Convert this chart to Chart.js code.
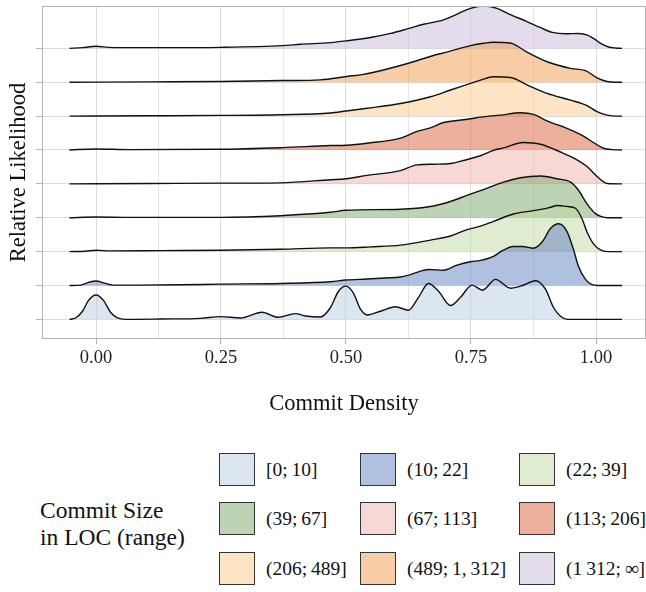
<!DOCTYPE html>
<html lang="en">
<head>
  <meta charset="UTF-8" />
  <title>Commit Density Ridgelines</title>
  <style>
    * { margin: 0; padding: 0; box-sizing: border-box; }
    body { background: white; width: 646px; height: 592px; overflow: hidden; }
    #wrap { position: relative; width: 646px; height: 592px; font-family: 'Liberation Serif', 'Times New Roman', serif; color: #111; }
    #chartBox { position: absolute; left: 0; top: 0; width: 646px; height: 425px; }
    .legend-title { position: absolute; left: 40px; top: 497px; font-size: 23.5px; line-height: 27px; }
    .key { position: absolute; width: 36px; height: 33px; border: 1px solid #333; }
    .lab { position: absolute; font-size: 19.5px; line-height: 33px; height: 33px; white-space: nowrap; }
  </style>
</head>
<body>
<div id="wrap">
  <div id="chartBox"><canvas id="ridges"></canvas></div>
  <div class="legend-title">Commit Size<br>in LOC (range)</div>
  <div id="legend"></div>
</div>

<script src="https://cdn.jsdelivr.net/npm/chart.js"></script>
<script>
  // commit size buckets, bottom ridge first
  const categories = ['[0;\u200910]', '(10;\u200922]', '(22;\u200939]', '(39;\u200967]', '(67;\u2009113]',
                      '(113;\u2009206]', '(206;\u2009489]', '(489;\u20091,\u2009312]', '(1\u2009312;\u2009\u221e]'];
  const fillColors = ['rgba(185,205,225,0.5)', 'rgba(97,129,193,0.5)', 'rgba(193,217,161,0.5)',
                      'rgba(121,169,105,0.5)', 'rgba(241,177,169,0.5)', 'rgba(217,97,57,0.5)',
                      'rgba(249,201,137,0.5)', 'rgba(241,153,73,0.5)', 'rgba(201,185,217,0.5)'];

  const xTicks = [0, 0.125, 0.25, 0.375, 0.5, 0.625, 0.75, 0.875, 1];
  const yTicks = [0, 1, 2, 3, 4, 5, 6, 7, 8];

  // density curves (x = commit density, h = relative likelihood)
  const loc0_x = [-0.053, -0.041, -0.027, -0.015, 0, 0.015, 0.029, 0.043, 0.059, 0.129, 0.209, 0.249, 0.289, 0.332, 0.365, 0.399, 0.419, 0.449, 0.469, 0.485, 0.5, 0.515, 0.529, 0.542, 0.569, 0.599, 0.625, 0.645, 0.665, 0.685, 0.709, 0.729, 0.752, 0.773, 0.799, 0.829, 0.853, 0.879, 0.899, 0.915, 0.929, 0.943, 1.052];
  const loc0_h = [0, 0.04, 0.24, 0.56, 0.72, 0.56, 0.21, 0.04, 0, 0.01, 0.03, 0.08, 0.04, 0.21, 0.06, 0.17, 0.10, 0.07, 0.35, 0.83, 0.98, 0.77, 0.30, 0.13, 0.24, 0.37, 0.27, 0.65, 1.06, 0.83, 0.41, 0.65, 1.01, 0.86, 1.18, 0.92, 1.00, 1.14, 0.89, 0.35, 0.09, 0, 0];

  const loc10_x = [-0.053, -0.031, -0.015, 0, 0.017, 0.033, 0.089, 0.169, 0.249, 0.369, 0.469, 0.5, 0.542, 0.579, 0.609, 0.629, 0.665, 0.695, 0.722, 0.749, 0.769, 0.795, 0.813, 0.835, 0.853, 0.875, 0.893, 0.909, 0.925, 0.942, 0.955, 0.965, 0.979, 0.991, 1.003, 1.052];
  const loc10_h = [0, 0.01, 0.09, 0.13, 0.07, 0.01, 0.01, 0.02, 0.04, 0.06, 0.11, 0.16, 0.19, 0.22, 0.25, 0.32, 0.47, 0.45, 0.60, 0.70, 0.74, 0.86, 1.03, 1.15, 1.15, 1.10, 1.30, 1.68, 1.82, 1.59, 1.06, 0.56, 0.18, 0.03, 0, 0];

  const loc22_x = [-0.053, -0.021, 0, 0.029, 0.129, 0.249, 0.369, 0.469, 0.5, 0.549, 0.609, 0.669, 0.709, 0.742, 0.769, 0.795, 0.835, 0.875, 0.895, 0.909, 0.923, 0.943, 0.959, 0.972, 0.982, 0.995, 1.009, 1.023, 1.052];
  const loc22_h = [0, 0.01, 0.04, 0.02, 0.03, 0.04, 0.07, 0.11, 0.11, 0.14, 0.19, 0.34, 0.46, 0.65, 0.75, 0.89, 1.11, 1.21, 1.26, 1.31, 1.36, 1.33, 1.28, 0.97, 0.58, 0.23, 0.05, 0, 0];

  const loc39_x = [-0.053, 0, 0.069, 0.249, 0.369, 0.469, 0.5, 0.609, 0.669, 0.709, 0.742, 0.769, 0.815, 0.849, 0.889, 0.922, 0.949, 0.965, 0.982, 0.999, 1.011, 1.023, 1.052];
  const loc39_h = [0, 0.02, 0.01, 0.01, 0.06, 0.16, 0.22, 0.25, 0.33, 0.48, 0.66, 0.80, 1.05, 1.18, 1.23, 1.15, 1.05, 0.81, 0.41, 0.12, 0.03, 0, 0];

  const loc67_x = [-0.053, 0.109, 0.249, 0.369, 0.469, 0.5, 0.542, 0.609, 0.642, 0.675, 0.709, 0.735, 0.769, 0.795, 0.815, 0.855, 0.889, 0.929, 0.962, 0.982, 1.002, 1.015, 1.023, 1.052];
  const loc67_h = [0, 0.01, 0.02, 0.03, 0.12, 0.15, 0.25, 0.39, 0.56, 0.58, 0.60, 0.69, 0.83, 0.99, 1.06, 1.22, 1.17, 0.94, 0.71, 0.51, 0.22, 0.06, 0.01, 0];

  const loc113_x = [-0.053, 0, 0.069, 0.249, 0.373, 0.469, 0.5, 0.542, 0.609, 0.642, 0.669, 0.695, 0.722, 0.749, 0.769, 0.809, 0.849, 0.875, 0.902, 0.942, 0.975, 0.995, 1.015, 1.033, 1.052];
  const loc113_h = [0, 0.03, 0.01, 0.02, 0.07, 0.13, 0.14, 0.20, 0.35, 0.55, 0.65, 0.81, 0.87, 0.92, 0.97, 1.03, 1.10, 1.05, 0.86, 0.64, 0.41, 0.22, 0.05, 0.01, 0];

  const loc206_x = [-0.053, 0.109, 0.249, 0.369, 0.469, 0.5, 0.542, 0.609, 0.669, 0.709, 0.742, 0.769, 0.795, 0.829, 0.862, 0.902, 0.949, 0.982, 1.002, 1.022, 1.042, 1.052];
  const loc206_h = [0, 0.01, 0.02, 0.04, 0.09, 0.15, 0.23, 0.37, 0.57, 0.77, 0.93, 1.06, 1.16, 1.14, 0.92, 0.67, 0.47, 0.31, 0.13, 0.03, 0, 0];

  const loc489_x = [-0.053, 0.109, 0.249, 0.373, 0.449, 0.502, 0.535, 0.569, 0.625, 0.675, 0.702, 0.749, 0.775, 0.795, 0.819, 0.833, 0.862, 0.905, 0.949, 0.979, 1.002, 1.022, 1.039, 1.052];
  const loc489_h = [0, 0.01, 0.02, 0.05, 0.07, 0.17, 0.23, 0.34, 0.56, 0.79, 0.89, 1.08, 1.15, 1.18, 1.17, 1.14, 0.89, 0.59, 0.41, 0.34, 0.13, 0.02, 0, 0];

  const loc1312_x = [-0.053, -0.027, 0, 0.025, 0.049, 0.129, 0.249, 0.373, 0.409, 0.469, 0.5, 0.549, 0.589, 0.626, 0.655, 0.695, 0.719, 0.749, 0.775, 0.802, 0.825, 0.862, 0.889, 0.913, 0.939, 0.965, 0.983, 0.997, 1.011, 1.025, 1.039, 1.052];
  const loc1312_h = [0, 0.02, 0.06, 0.03, 0.02, 0.02, 0.03, 0.08, 0.12, 0.17, 0.22, 0.32, 0.44, 0.59, 0.71, 0.84, 0.99, 1.18, 1.25, 1.18, 1.02, 0.79, 0.61, 0.47, 0.43, 0.44, 0.39, 0.27, 0.13, 0.04, 0.01, 0];

  const ridgeX = [loc0_x, loc10_x, loc22_x, loc39_x, loc67_x, loc113_x, loc206_x, loc489_x, loc1312_x];
  const ridgeH = [loc0_h, loc10_h, loc22_h, loc39_h, loc67_h, loc113_h, loc206_h, loc489_h, loc1312_h];

  const serif = "'Liberation Serif', 'Times New Roman', serif";

  // first dataset is drawn last, so the bottom ridge sits on top
  const datasets = categories.map((label, k) => ({
    label: label,
    data: ridgeX[k].map((x, i) => ({ x: x, y: k + ridgeH[k][i] })),
    borderColor: '#111',
    borderWidth: 1.4,
    backgroundColor: fillColors[k],
    fill: { value: k },
    pointRadius: 0,
    cubicInterpolationMode: 'monotone'
  }));

  const panelBorder = {
    id: 'panelBorder',
    afterDraw(chart) {
      const { ctx, chartArea: a } = chart;
      ctx.save();
      ctx.strokeStyle = '#b3b3b3';
      ctx.lineWidth = 1;
      ctx.strokeRect(a.left + 0.5, a.top + 0.5, a.right - a.left - 1, a.bottom - a.top - 1);
      ctx.restore();
    }
  };

  const isMajor = v => Math.abs(v / 0.25 - Math.round(v / 0.25)) < 1e-6;

  new Chart(document.getElementById('ridges'), {
    type: 'line',
    data: { datasets: datasets },
    plugins: [panelBorder],
    options: {
      responsive: true,
      maintainAspectRatio: false,
      animation: false,
      layout: { padding: { top: 6, right: 0, bottom: 0, left: 0 } },
      plugins: { legend: { display: false }, tooltip: { enabled: false } },
      scales: {
        x: {
          type: 'linear',
          min: -0.108,
          max: 1.1,
          afterBuildTicks: s => { s.ticks = xTicks.map(v => ({ value: v })); },
          afterFit: s => { s.height = 86; },
          border: { display: false },
          grid: {
            color: c => isMajor(c.tick.value) ? '#dcdcdc' : '#e6e6e6',
            tickColor: c => isMajor(c.tick.value) ? '#b3b3b3' : 'rgba(0,0,0,0)',
            tickLength: 5
          },
          ticks: {
            autoSkip: false,
            maxRotation: 0,
            padding: 3,
            color: '#222',
            font: { family: serif, size: 18.5 },
            callback: v => isMajor(v) ? v.toFixed(2) : ''
          },
          title: {
            display: true,
            text: 'Commit Density',
            color: '#111',
            font: { family: serif, size: 22.5 },
            padding: { top: 0, bottom: 7 }
          }
        },
        y: {
          type: 'linear',
          min: -0.58,
          max: 9.25,
          afterBuildTicks: s => { s.ticks = yTicks.map(v => ({ value: v })); },
          afterFit: s => { s.width = 42; },
          border: { display: false },
          grid: { color: '#dedede', tickColor: '#b3b3b3', tickLength: 6 },
          ticks: { display: false },
          title: {
            display: true,
            text: 'Relative Likelihood',
            color: '#111',
            font: { family: serif, size: 22.5 },
            padding: { top: 6, bottom: 0 }
          }
        }
      }
    }
  });

  // legend: three columns, three rows
  const legend = document.getElementById('legend');
  const keyLeft = [219, 360, 519];
  const rowTop = [453, 502, 552];
  categories.forEach((label, k) => {
    const col = k % 3, row = Math.floor(k / 3);
    const key = document.createElement('div');
    key.className = 'key';
    key.style.left = keyLeft[col] + 'px';
    key.style.top = rowTop[row] + 'px';
    key.style.background = fillColors[k];
    legend.appendChild(key);
    const lab = document.createElement('div');
    lab.className = 'lab';
    lab.style.left = (keyLeft[col] + 47) + 'px';
    lab.style.top = rowTop[row] + 'px';
    lab.textContent = label;
    legend.appendChild(lab);
  });
</script>
</body>
</html>
